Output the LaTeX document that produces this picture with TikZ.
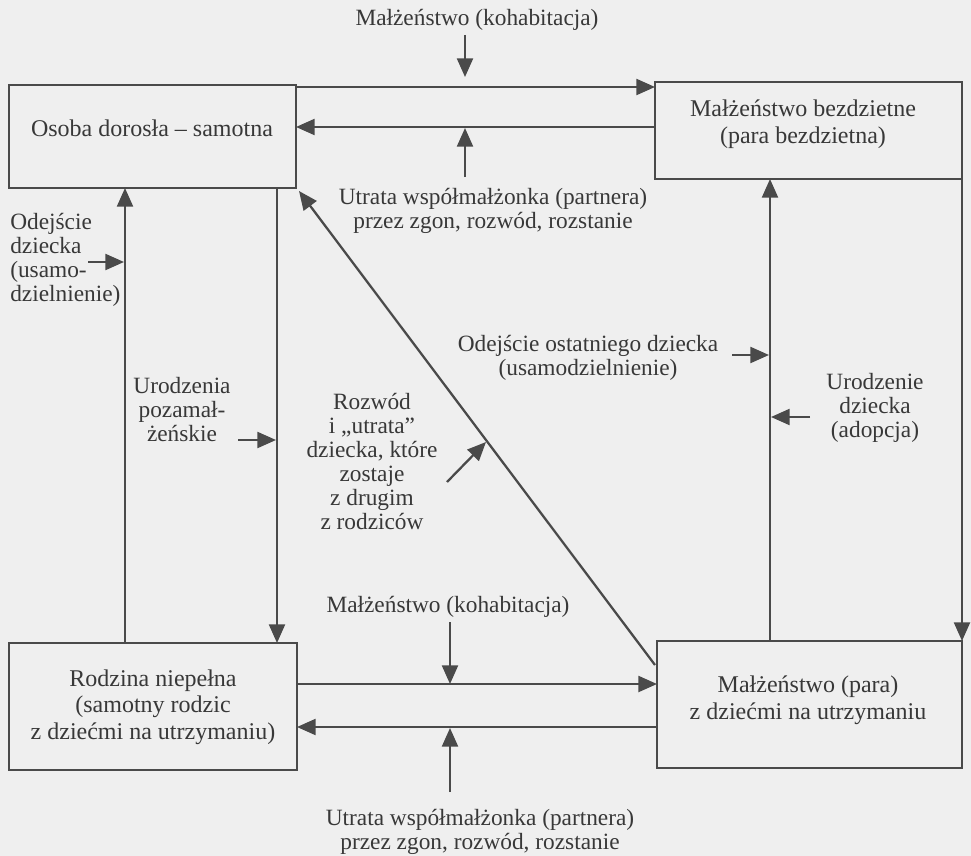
\documentclass[tikz,border=0pt]{standalone}
\usepackage{fontspec}
\setmainfont{Liberation Serif}
\usetikzlibrary{arrows.meta,fit}
\definecolor{bgc}{HTML}{EFEFEF}
\definecolor{ink}{HTML}{4A4A4A}
\definecolor{txt}{HTML}{383838}
\tikzset{
  box/.style={draw=ink, line width=1.8pt, inner sep=0pt, outer sep=0pt},
  lbl/.style={text=txt, font=\fontsize{17.5}{18}\selectfont, align=center, inner sep=0pt},
  boxlbl/.style={text=txt, font=\fontsize{18}{20}\selectfont, align=center, inner sep=0pt},
  arr/.style={draw=ink, line width=1.7pt, -{Triangle[length=14pt,width=12pt]}},
}
\begin{document}
\begin{tikzpicture}[x=0.75pt,y=-0.75pt]
\fill[bgc] (0,0) rectangle (971,856);
\useasboundingbox (0,0) rectangle (971,856);

% boxes
\node[box, fit={(9,85) (296,188)}] (A) {};
\node[box, fit={(655,82) (962,179)}] (B) {};
\node[box, fit={(9,643) (297,770)}] (C) {};
\node[box, fit={(657,641) (962,768)}] (D) {};

\node[boxlbl] (Atx) at (152,128) {Osoba dorosła – samotna};
\node[boxlbl] (Btx) at (803,124) {Małżeństwo bezdzietne\\(para bezdzietna)};
\node[boxlbl] (Ctx) at (153,707) {Rodzina niepełna\\(samotny rodzic\\z dziećmi na utrzymaniu)};
\node[boxlbl] (Dtx) at (808,700) {Małżeństwo (para)\\z dziećmi na utrzymaniu};

% helper coordinates
\coordinate (y87) at (0,87);
\coordinate (y127) at (0,127);
\coordinate (y684) at (0,684);
\coordinate (y727) at (0,727);
\coordinate (x125) at (125,0);
\coordinate (x277) at (277,0);
\coordinate (x770) at (770,0);
\coordinate (x962) at (962,0);

% main horizontal connectors
\draw[arr] (A.east |- y87) -- (B.west |- y87);
\draw[arr] (B.west |- y127) -- (A.east |- y127);
\draw[arr] (C.east |- y684) -- (D.west |- y684);
\draw[arr] (D.west |- y727) -- (C.east |- y727);

% vertical connectors
\draw[arr] (C.north -| x125) -- (A.south -| x125);
\draw[arr] (A.south -| x277) -- (C.north -| x277);
\draw[arr] (D.north -| x770) -- (B.south -| x770);
\draw[arr] (B.south -| x962) -- (D.north -| x962);

% diagonal
\coordinate (dS) at (655,665);
\coordinate (dE) at (299,191);
\draw[arr] (dS) -- (dE);

% top labels and arrows
\node[lbl] (t1) at (477,20) {Małżeństwo (kohabitacja)};
\coordinate (t1a) at (465,35);
\coordinate (t1b) at (465,77);
\draw[arr] (t1a) -- (t1b);

\node[lbl] (t2) at (493,211) {Utrata współmałżonka (partnera)\\przez zgon, rozwód, rozstanie};
\coordinate (t2a) at (465,177);
\coordinate (t2b) at (465,128);
\draw[arr] (t2a) -- (t2b);

% bottom labels and arrows
\node[lbl] (t3) at (448,607) {Małżeństwo (kohabitacja)};
\coordinate (t3a) at (450,622);
\coordinate (t3b) at (450,684);
\draw[arr] (t3a) -- (t3b);

\node[lbl] (t4) at (480,832) {Utrata współmałżonka (partnera)\\przez zgon, rozwód, rozstanie};
\coordinate (t4a) at (450,792);
\coordinate (t4b) at (450,728);
\draw[arr] (t4a) -- (t4b);

% side labels
\node[lbl, align=left, anchor=west] (l1) at (10,260) {Odejście\\dziecka\\(usamo-\\dzielnienie)};
\coordinate (l1a) at (88,262);
\coordinate (l1b) at (124,262);
\draw[arr] (l1a) -- (l1b);

\node[lbl] (l2) at (182,410) {Urodzenia\\pozamał-\\żeńskie};
\coordinate (l2a) at (238,440);
\coordinate (l2b) at (276,440);
\draw[arr] (l2a) -- (l2b);

\node[lbl] (l3) at (372,461) {Rozwód\\i „utrata”\\dziecka, które\\zostaje\\z drugim\\z rodziców};
\coordinate (l3a) at (447,482);
\coordinate (l3b) at (486,442);
\draw[arr] (l3a) -- (l3b);

\node[lbl] (l4) at (588,358) {Odejście ostatniego dziecka\\(usamodzielnienie)};
\coordinate (l4a) at (732,355);
\coordinate (l4b) at (769,355);
\draw[arr] (l4a) -- (l4b);

\node[lbl] (l5) at (875,408) {Urodzenie\\dziecka\\(adopcja)};
\coordinate (l5a) at (810,417);
\coordinate (l5b) at (771,417);
\draw[arr] (l5a) -- (l5b);
\end{tikzpicture}
\end{document}
